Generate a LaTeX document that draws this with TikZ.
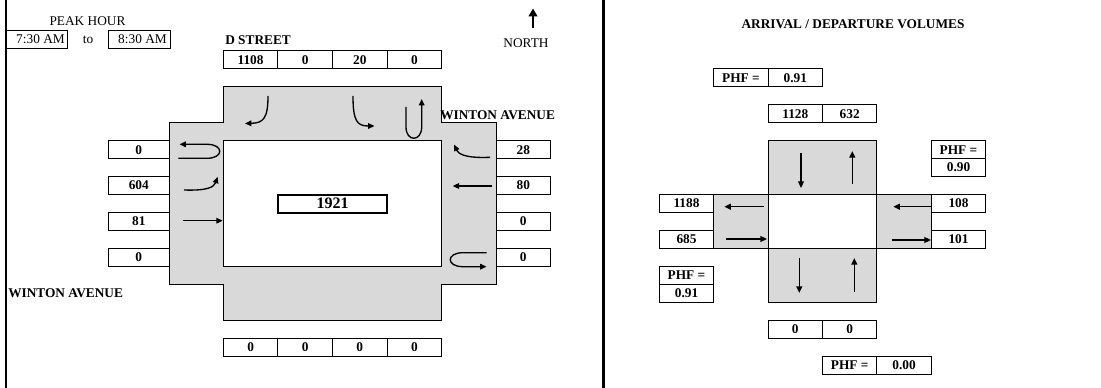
\documentclass[tikz,border=0pt]{standalone}
\usepackage{fontspec}
\setmainfont{Liberation Serif}
\usetikzlibrary{arrows.meta}
\tikzset{
  cell/.style={draw, line width=0.75pt, inner sep=0pt, font=\bfseries, anchor=center},
  plain/.style={inner sep=0pt},
  label/.style={inner sep=0pt, font=\bfseries},
  lanefill/.style={fill=black!15, draw=black, line width=0.75pt},
  hole/.style={fill=white, draw=black, line width=0.75pt},
  turn/.style={line width=1pt, -{Triangle[length=4.8pt,width=4.2pt]}},
  flow/.style={line width=1.1pt, -{Triangle[length=5pt,width=4.4pt]}},
  rule/.style={line width=1.6pt}
}
\newcommand\mycell[6]{\node[cell, minimum width={(#4-#2)*0.75pt}, minimum height={(#5-#3)*0.75pt}] (#1) at ({(#2+#4)/2},{(#3+#5)/2}) {#6};}
\begin{document}
\begin{tikzpicture}[x=0.75pt,y=-0.75pt, font=\fontsize{10}{12}\selectfont]
\useasboundingbox (0,0) rectangle (1101,388);

% frame lines
\coordinate (b1) at (6,0); \coordinate (b2) at (6,388);
\coordinate (d1) at (603.5,0); \coordinate (d2) at (603.5,388);
\draw[rule] (b1) -- (b2);
\draw[rule] (d1) -- (d2);

% ---------------- LEFT PANEL ----------------
\node[plain] (peak) at (87.5,21) {PEAK HOUR};
\mycell{tfrom}{6}{30.5}{67.7}{48.5}{}
\node[plain, anchor=east] (tfromtxt) at (65,39.5) {7:30 AM};
\node[plain] (to) at (88,39.5) {to};
\mycell{tto}{108.3}{30.5}{170}{48.5}{}
\node[plain, anchor=east] (ttotxt) at (167,39.5) {8:30 AM};
\node[label, anchor=west] (dst) at (225,40) {D STREET};
\node[plain] (north) at (526,43) {NORTH};
\coordinate (na) at (533,28);
\coordinate (nb) at (533,8.5);
\draw[line width=1.6pt, -{Triangle[length=6pt,width=6.5pt]}] (na) -- (nb);

% top counts
\mycell{n1}{223.3}{50.9}{277.9}{68.86}{1108}
\mycell{n2}{277.9}{50.9}{332.5}{68.86}{0}
\mycell{n3}{332.5}{50.9}{387.1}{68.86}{20}
\mycell{n4}{387.1}{50.9}{441.7}{68.86}{0}

% intersection shape
\draw[lanefill] (223.3,86.82) -- (441.7,86.82) -- (441.7,122.74) -- (496,122.74) -- (496,284.38)
  -- (441.7,284.38) -- (441.7,320.3) -- (223.3,320.3) -- (223.3,284.38) -- (169.3,284.38)
  -- (169.3,122.74) -- (223.3,122.74) -- cycle;
\draw[hole] (223.3,140.7) rectangle (441.7,266.42);

\node[label, anchor=west] (wr) at (440,115) {WINTON AVENUE};
\node[label, anchor=west] (wl) at (8,293) {WINTON AVENUE};

% west approach
\mycell{w1}{108.3}{140.7}{169.3}{158.66}{0}
\mycell{w2}{108.3}{176.62}{169.3}{194.58}{604}
\mycell{w3}{108.3}{212.54}{169.3}{230.5}{81}
\mycell{w4}{108.3}{248.46}{169.3}{266.42}{0}

% east approach
\mycell{e1}{496}{140.7}{550.5}{158.66}{28}
\mycell{e2}{496}{176.62}{550.5}{194.58}{80}
\mycell{e3}{496}{212.54}{550.5}{230.5}{0}
\mycell{e4}{496}{248.46}{550.5}{266.42}{0}

% bottom counts
\mycell{s1}{223.3}{338.26}{277.9}{356.22}{0}
\mycell{s2}{277.9}{338.26}{332.5}{356.22}{0}
\mycell{s3}{332.5}{338.26}{387.1}{356.22}{0}
\mycell{s4}{387.1}{338.26}{441.7}{356.22}{0}

% total
\node[draw, line width=1.6pt, inner sep=0pt, minimum width={109*0.75pt}, minimum height={18*0.75pt},
  font=\fontsize{12}{14}\selectfont\bfseries] (tot) at (332.5,203.6) {1921};

% southbound turn arrows
\draw[turn] (268,96) .. controls (268,119) and (263,123) .. (245,123.5);
\draw[turn] (353,96) .. controls (353,121) and (357,126) .. (374.5,126);
\draw[turn] (406,107) -- (406,127) .. controls (406,142) and (421.7,142) .. (421.7,127) -- (421.7,99);

% westbound arrows
\draw[turn] (490,157.3) .. controls (463,158.5) and (458,153) .. (454,144.5);
\draw[turn] (491.7,186) -- (452.7,186);
\draw[turn] (486.7,252.7) -- (463,252.7) .. controls (446,252.7) and (446,266.7) .. (463,266.7) -- (486.5,266.7);

% eastbound arrows
\draw[turn] (178.3,158.3) -- (207,158.3) .. controls (224,158.3) and (224,144.3) .. (207,144.3) -- (179.5,144.3);
\draw[turn] (184,190) .. controls (206,190.8) and (214,187.5) .. (217.6,176.8);
\draw[turn] (182.7,220.7) -- (222.7,220.7);

% ---------------- RIGHT PANEL ----------------
\node[label] (title) at (853,24.3) {ARRIVAL / DEPARTURE VOLUMES};

\mycell{pn1}{713.7}{68.86}{768.1}{86.82}{PHF =}
\mycell{pn2}{768.1}{68.86}{822.5}{86.82}{0.91}
\mycell{an1}{768.1}{104.78}{822.5}{122.74}{1128}
\mycell{an2}{822.5}{104.78}{876.9}{122.74}{632}

\draw[lanefill] (768.1,140.7) rectangle (876.9,194.58);
\draw[lanefill] (713.7,194.58) rectangle (768.1,248.46);
\draw[lanefill] (876.9,194.58) rectangle (931.3,248.46);
\draw[lanefill] (768.1,248.46) rectangle (876.9,302.34);
\draw[hole] (768.1,194.58) rectangle (876.9,248.46);

\mycell{pe1}{931.3}{140.7}{985.7}{158.66}{PHF =}
\mycell{pe2}{931.3}{158.66}{985.7}{176.62}{0.90}

\mycell{aw1}{659.3}{194.58}{713.7}{212.54}{1188}
\mycell{aw2}{659.3}{230.5}{713.7}{248.46}{685}
\mycell{ae1}{931.3}{194.58}{985.7}{212.54}{108}
\mycell{ae2}{931.3}{230.5}{985.7}{248.46}{101}

\mycell{pw1}{659.3}{266.42}{713.7}{284.38}{PHF =}
\mycell{pw2}{659.3}{284.38}{713.7}{302.34}{0.91}

\mycell{as1}{768.1}{320.3}{822.5}{338.26}{0}
\mycell{as2}{822.5}{320.3}{876.9}{338.26}{0}

\mycell{ps1}{822.5}{356.22}{876.9}{374.18}{PHF =}
\mycell{ps2}{876.9}{356.22}{931.3}{374.18}{0.00}

% arrival/departure arrows
\draw[flow] (801,152.7) -- (801,188);
\draw[flow] (852.3,184) -- (852.3,151);
\draw[flow] (763.5,206.7) -- (724.3,206.7);
\draw[flow] (726,239) -- (767,239);
\draw[flow] (931.3,206.7) -- (893.3,206.7);
\draw[flow] (891.7,240) -- (931,240);
\draw[flow] (799.3,257.7) -- (799.3,293);
\draw[flow] (854.3,292) -- (854.3,258);
\end{tikzpicture}
\end{document}
